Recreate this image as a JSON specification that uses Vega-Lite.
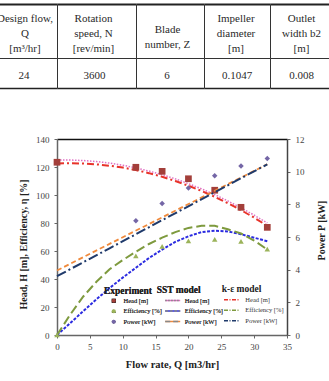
{
  "$schema": "https://vega.github.io/schema/vega-lite/v6.json",
  "padding": {"left": -11, "top": 4, "right": 0, "bottom": 0},
  "spacing": 47,
  "config": {"view": {"stroke": null}},
  "datasets": {
    "exp": [
      {"Q": 0, "value": 123.4, "series": "Head [m]"},
      {"Q": 12, "value": 119.8, "series": "Head [m]"},
      {"Q": 16, "value": 116.9, "series": "Head [m]"},
      {"Q": 20, "value": 111.6, "series": "Head [m]"},
      {"Q": 24, "value": 103.4, "series": "Head [m]"},
      {"Q": 28, "value": 91.2, "series": "Head [m]"},
      {"Q": 32, "value": 76.9, "series": "Head [m]"},
      {"Q": 0, "value": 0, "series": "Efficiency [%]"},
      {"Q": 12, "value": 56.6, "series": "Efficiency [%]"},
      {"Q": 16, "value": 63.3, "series": "Efficiency [%]"},
      {"Q": 20, "value": 67.2, "series": "Efficiency [%]"},
      {"Q": 24, "value": 68.3, "series": "Efficiency [%]"},
      {"Q": 28, "value": 66.9, "series": "Efficiency [%]"},
      {"Q": 32, "value": 61.3, "series": "Efficiency [%]"},
      {"Q": 12, "value": 7.0, "series": "Power [kW]"},
      {"Q": 16, "value": 8.05, "series": "Power [kW]"},
      {"Q": 20, "value": 9.0, "series": "Power [kW]"},
      {"Q": 24, "value": 9.75, "series": "Power [kW]"},
      {"Q": 28, "value": 10.35, "series": "Power [kW]"},
      {"Q": 32, "value": 10.8, "series": "Power [kW]"}
    ],
    "sst": [
      {"Q": 0, "value": 125.0, "series": "Head [m]"},
      {"Q": 2, "value": 125.0, "series": "Head [m]"},
      {"Q": 4, "value": 124.6, "series": "Head [m]"},
      {"Q": 6, "value": 123.9, "series": "Head [m]"},
      {"Q": 8, "value": 122.8, "series": "Head [m]"},
      {"Q": 10, "value": 121.3, "series": "Head [m]"},
      {"Q": 12, "value": 119.4, "series": "Head [m]"},
      {"Q": 14, "value": 117.1, "series": "Head [m]"},
      {"Q": 16, "value": 114.5, "series": "Head [m]"},
      {"Q": 18, "value": 111.5, "series": "Head [m]"},
      {"Q": 20, "value": 108.1, "series": "Head [m]"},
      {"Q": 22, "value": 104.4, "series": "Head [m]"},
      {"Q": 24, "value": 100.3, "series": "Head [m]"},
      {"Q": 26, "value": 95.7, "series": "Head [m]"},
      {"Q": 28, "value": 90.9, "series": "Head [m]"},
      {"Q": 30, "value": 85.6, "series": "Head [m]"},
      {"Q": 32, "value": 80.0, "series": "Head [m]"},
      {"Q": 0, "value": 0, "series": "Efficiency [%]"},
      {"Q": 2, "value": 8.5, "series": "Efficiency [%]"},
      {"Q": 4, "value": 17, "series": "Efficiency [%]"},
      {"Q": 6, "value": 25.5, "series": "Efficiency [%]"},
      {"Q": 8, "value": 33.5, "series": "Efficiency [%]"},
      {"Q": 10, "value": 41, "series": "Efficiency [%]"},
      {"Q": 12, "value": 48, "series": "Efficiency [%]"},
      {"Q": 14, "value": 55, "series": "Efficiency [%]"},
      {"Q": 16, "value": 61, "series": "Efficiency [%]"},
      {"Q": 18, "value": 66.5, "series": "Efficiency [%]"},
      {"Q": 20, "value": 70.5, "series": "Efficiency [%]"},
      {"Q": 22, "value": 73.5, "series": "Efficiency [%]"},
      {"Q": 24, "value": 74.5, "series": "Efficiency [%]"},
      {"Q": 26, "value": 74, "series": "Efficiency [%]"},
      {"Q": 28, "value": 72, "series": "Efficiency [%]"},
      {"Q": 30, "value": 69.5, "series": "Efficiency [%]"},
      {"Q": 32, "value": 67, "series": "Efficiency [%]"},
      {"Q": 0, "value": 3.95, "series": "Power [kW]"},
      {"Q": 8, "value": 5.58, "series": "Power [kW]"},
      {"Q": 16, "value": 7.2, "series": "Power [kW]"},
      {"Q": 24, "value": 8.83, "series": "Power [kW]"},
      {"Q": 32, "value": 10.45, "series": "Power [kW]"}
    ],
    "ke": [
      {"Q": 0, "value": 122.5, "series": "Head [m]"},
      {"Q": 2, "value": 122.7, "series": "Head [m]"},
      {"Q": 4, "value": 122.5, "series": "Head [m]"},
      {"Q": 6, "value": 121.9, "series": "Head [m]"},
      {"Q": 8, "value": 120.9, "series": "Head [m]"},
      {"Q": 10, "value": 119.6, "series": "Head [m]"},
      {"Q": 12, "value": 117.8, "series": "Head [m]"},
      {"Q": 14, "value": 115.6, "series": "Head [m]"},
      {"Q": 16, "value": 113.0, "series": "Head [m]"},
      {"Q": 18, "value": 110.0, "series": "Head [m]"},
      {"Q": 20, "value": 106.6, "series": "Head [m]"},
      {"Q": 22, "value": 102.9, "series": "Head [m]"},
      {"Q": 24, "value": 98.7, "series": "Head [m]"},
      {"Q": 26, "value": 94.1, "series": "Head [m]"},
      {"Q": 28, "value": 89.2, "series": "Head [m]"},
      {"Q": 30, "value": 83.8, "series": "Head [m]"},
      {"Q": 32, "value": 78.0, "series": "Head [m]"},
      {"Q": 0, "value": 0, "series": "Efficiency [%]"},
      {"Q": 2, "value": 14.5, "series": "Efficiency [%]"},
      {"Q": 4, "value": 27.5, "series": "Efficiency [%]"},
      {"Q": 6, "value": 38, "series": "Efficiency [%]"},
      {"Q": 8, "value": 47, "series": "Efficiency [%]"},
      {"Q": 10, "value": 53.5, "series": "Efficiency [%]"},
      {"Q": 12, "value": 59.5, "series": "Efficiency [%]"},
      {"Q": 14, "value": 65, "series": "Efficiency [%]"},
      {"Q": 16, "value": 69.5, "series": "Efficiency [%]"},
      {"Q": 18, "value": 73.5, "series": "Efficiency [%]"},
      {"Q": 20, "value": 76.5, "series": "Efficiency [%]"},
      {"Q": 22, "value": 78, "series": "Efficiency [%]"},
      {"Q": 24, "value": 78, "series": "Efficiency [%]"},
      {"Q": 26, "value": 75.5, "series": "Efficiency [%]"},
      {"Q": 28, "value": 72.5, "series": "Efficiency [%]"},
      {"Q": 30, "value": 67.5, "series": "Efficiency [%]"},
      {"Q": 32, "value": 61, "series": "Efficiency [%]"},
      {"Q": 0, "value": 3.6, "series": "Power [kW]"},
      {"Q": 8, "value": 5.31, "series": "Power [kW]"},
      {"Q": 16, "value": 7.03, "series": "Power [kW]"},
      {"Q": 24, "value": 8.74, "series": "Power [kW]"},
      {"Q": 32, "value": 10.45, "series": "Power [kW]"}
    ]
  },
  "vconcat": [
    {
      "spacing": 0,
      "vconcat": [
        {
          "spacing": 0,
          "bounds": "flush",
          "hconcat": [
            {"width": 68, "height": 54, "data": {"values": [{"label": "Design flow,\nQ\n[m³/hr]", "col": "c1", "row": "header"}]},
             "mark": {"type": "text", "font": "Liberation Serif", "fontSize": 11, "lineHeight": 15, "lineBreak": "\n", "color": "#2a2a2a", "baseline": "middle", "dx": 2, "dy": -12, "clip": true},
             "encoding": {"text": {"field": "label"},
               "x": {"field": "col", "type": "nominal", "scale": {"paddingInner": 0, "paddingOuter": 0}, "axis": {"orient": "top", "labels": false, "ticks": false, "title": null, "grid": false, "minExtent": 0, "domainColor": "#222", "domainWidth": 2}},
               "y": {"field": "row", "type": "nominal", "scale": {"paddingInner": 0, "paddingOuter": 0}, "axis": null}}},
            {"width": 79, "height": 54, "data": {"values": [{"label": "Rotation\nspeed, N\n[rev/min]", "col": "c2", "row": "header"}]},
             "mark": {"type": "text", "font": "Liberation Serif", "fontSize": 11, "lineHeight": 15, "lineBreak": "\n", "color": "#2a2a2a", "baseline": "middle", "dx": -3, "dy": -12, "clip": true},
             "encoding": {"text": {"field": "label"},
               "x": {"field": "col", "type": "nominal", "scale": {"paddingInner": 0, "paddingOuter": 0}, "axis": {"orient": "top", "labels": false, "ticks": false, "title": null, "grid": false, "minExtent": 0, "domainColor": "#222", "domainWidth": 2}},
               "y": {"field": "row", "type": "nominal", "scale": {"paddingInner": 0, "paddingOuter": 0}, "axis": {"orient": "left", "labels": false, "ticks": false, "title": null, "grid": false, "minExtent": 0, "domainColor": "#333", "domainWidth": 1}}}},
            {"width": 68, "height": 54, "data": {"values": [{"label": "Blade\nnumber, Z", "col": "c3", "row": "header"}]},
             "mark": {"type": "text", "font": "Liberation Serif", "fontSize": 11, "lineHeight": 15, "lineBreak": "\n", "color": "#2a2a2a", "baseline": "middle", "dx": -2.5, "dy": -1, "clip": true},
             "encoding": {"text": {"field": "label"},
               "x": {"field": "col", "type": "nominal", "scale": {"paddingInner": 0, "paddingOuter": 0}, "axis": {"orient": "top", "labels": false, "ticks": false, "title": null, "grid": false, "minExtent": 0, "domainColor": "#222", "domainWidth": 2}},
               "y": {"field": "row", "type": "nominal", "scale": {"paddingInner": 0, "paddingOuter": 0}, "axis": {"orient": "left", "labels": false, "ticks": false, "title": null, "grid": false, "minExtent": 0, "domainColor": "#333", "domainWidth": 1}}}},
            {"width": 66, "height": 54, "data": {"values": [{"label": "Impeller\ndiameter\n[m]", "col": "c4", "row": "header"}]},
             "mark": {"type": "text", "font": "Liberation Serif", "fontSize": 11, "lineHeight": 15, "lineBreak": "\n", "color": "#2a2a2a", "baseline": "middle", "dx": -1, "dy": -12, "clip": true},
             "encoding": {"text": {"field": "label"},
               "x": {"field": "col", "type": "nominal", "scale": {"paddingInner": 0, "paddingOuter": 0}, "axis": {"orient": "top", "labels": false, "ticks": false, "title": null, "grid": false, "minExtent": 0, "domainColor": "#222", "domainWidth": 2}},
               "y": {"field": "row", "type": "nominal", "scale": {"paddingInner": 0, "paddingOuter": 0}, "axis": {"orient": "left", "labels": false, "ticks": false, "title": null, "grid": false, "minExtent": 0, "domainColor": "#333", "domainWidth": 1}}}},
            {"width": 59, "height": 54, "data": {"values": [{"label": "Outlet\nwidth b2\n[m]", "col": "c5", "row": "header"}]},
             "mark": {"type": "text", "font": "Liberation Serif", "fontSize": 11, "lineHeight": 15, "lineBreak": "\n", "color": "#2a2a2a", "baseline": "middle", "dx": 2, "dy": -12, "clip": true},
             "encoding": {"text": {"field": "label"},
               "x": {"field": "col", "type": "nominal", "scale": {"paddingInner": 0, "paddingOuter": 0}, "axis": {"orient": "top", "labels": false, "ticks": false, "title": null, "grid": false, "minExtent": 0, "domainColor": "#222", "domainWidth": 2}},
               "y": {"field": "row", "type": "nominal", "scale": {"paddingInner": 0, "paddingOuter": 0}, "axis": {"orient": "left", "labels": false, "ticks": false, "title": null, "grid": false, "minExtent": 0, "domainColor": "#333", "domainWidth": 1}}}}
          ]
        },
        {
          "spacing": 0,
          "bounds": "flush",
          "hconcat": [
            {"width": 68, "height": 30, "data": {"values": [{"label": "24", "col": "c1", "row": "value"}]},
             "resolve": {"scale": {"x": "independent"}},
             "encoding": {"text": {"field": "label"},
               "y": {"field": "row", "type": "nominal", "scale": {"paddingInner": 0, "paddingOuter": 0}, "axis": null}},
             "layer": [
               {"mark": {"type": "text", "font": "Liberation Serif", "fontSize": 11, "color": "#2a2a2a", "baseline": "middle", "dx": 1, "dy": 3, "clip": true},
                "encoding": {"x": {"field": "col", "type": "nominal", "scale": {"paddingInner": 0, "paddingOuter": 0}, "axis": {"orient": "top", "labels": false, "ticks": false, "title": null, "grid": false, "minExtent": 0, "domainColor": "#333", "domainWidth": 1}}}},
               {"mark": {"type": "text", "font": "Liberation Serif", "fontSize": 11, "opacity": 0, "baseline": "middle", "dy": 3, "clip": true},
                "encoding": {"x": {"field": "col", "type": "nominal", "scale": {"paddingInner": 0, "paddingOuter": 0}, "axis": {"orient": "bottom", "labels": false, "ticks": false, "title": null, "grid": false, "minExtent": 0, "domainColor": "#222", "domainWidth": 1.5}}}}
             ]},
            {"width": 79, "height": 30, "data": {"values": [{"label": "3600", "col": "c2", "row": "value"}]},
             "resolve": {"scale": {"x": "independent"}},
             "encoding": {"text": {"field": "label"},
               "y": {"field": "row", "type": "nominal", "scale": {"paddingInner": 0, "paddingOuter": 0}, "axis": {"orient": "left", "labels": false, "ticks": false, "title": null, "grid": false, "minExtent": 0, "domainColor": "#333", "domainWidth": 1}}},
             "layer": [
               {"mark": {"type": "text", "font": "Liberation Serif", "fontSize": 11, "color": "#2a2a2a", "baseline": "middle", "dx": -2, "dy": 3, "clip": true},
                "encoding": {"x": {"field": "col", "type": "nominal", "scale": {"paddingInner": 0, "paddingOuter": 0}, "axis": {"orient": "top", "labels": false, "ticks": false, "title": null, "grid": false, "minExtent": 0, "domainColor": "#333", "domainWidth": 1}}}},
               {"mark": {"type": "text", "font": "Liberation Serif", "fontSize": 11, "opacity": 0, "baseline": "middle", "dy": 3, "clip": true},
                "encoding": {"x": {"field": "col", "type": "nominal", "scale": {"paddingInner": 0, "paddingOuter": 0}, "axis": {"orient": "bottom", "labels": false, "ticks": false, "title": null, "grid": false, "minExtent": 0, "domainColor": "#222", "domainWidth": 1.5}}}}
             ]},
            {"width": 68, "height": 30, "data": {"values": [{"label": "6", "col": "c3", "row": "value"}]},
             "resolve": {"scale": {"x": "independent"}},
             "encoding": {"text": {"field": "label"},
               "y": {"field": "row", "type": "nominal", "scale": {"paddingInner": 0, "paddingOuter": 0}, "axis": {"orient": "left", "labels": false, "ticks": false, "title": null, "grid": false, "minExtent": 0, "domainColor": "#333", "domainWidth": 1}}},
             "layer": [
               {"mark": {"type": "text", "font": "Liberation Serif", "fontSize": 11, "color": "#2a2a2a", "baseline": "middle", "dx": -3, "dy": 3, "clip": true},
                "encoding": {"x": {"field": "col", "type": "nominal", "scale": {"paddingInner": 0, "paddingOuter": 0}, "axis": {"orient": "top", "labels": false, "ticks": false, "title": null, "grid": false, "minExtent": 0, "domainColor": "#333", "domainWidth": 1}}}},
               {"mark": {"type": "text", "font": "Liberation Serif", "fontSize": 11, "opacity": 0, "baseline": "middle", "dy": 3, "clip": true},
                "encoding": {"x": {"field": "col", "type": "nominal", "scale": {"paddingInner": 0, "paddingOuter": 0}, "axis": {"orient": "bottom", "labels": false, "ticks": false, "title": null, "grid": false, "minExtent": 0, "domainColor": "#222", "domainWidth": 1.5}}}}
             ]},
            {"width": 66, "height": 30, "data": {"values": [{"label": "0.1047", "col": "c4", "row": "value"}]},
             "resolve": {"scale": {"x": "independent"}},
             "encoding": {"text": {"field": "label"},
               "y": {"field": "row", "type": "nominal", "scale": {"paddingInner": 0, "paddingOuter": 0}, "axis": {"orient": "left", "labels": false, "ticks": false, "title": null, "grid": false, "minExtent": 0, "domainColor": "#333", "domainWidth": 1}}},
             "layer": [
               {"mark": {"type": "text", "font": "Liberation Serif", "fontSize": 11, "color": "#2a2a2a", "baseline": "middle", "dy": 3, "clip": true},
                "encoding": {"x": {"field": "col", "type": "nominal", "scale": {"paddingInner": 0, "paddingOuter": 0}, "axis": {"orient": "top", "labels": false, "ticks": false, "title": null, "grid": false, "minExtent": 0, "domainColor": "#333", "domainWidth": 1}}}},
               {"mark": {"type": "text", "font": "Liberation Serif", "fontSize": 11, "opacity": 0, "baseline": "middle", "dy": 3, "clip": true},
                "encoding": {"x": {"field": "col", "type": "nominal", "scale": {"paddingInner": 0, "paddingOuter": 0}, "axis": {"orient": "bottom", "labels": false, "ticks": false, "title": null, "grid": false, "minExtent": 0, "domainColor": "#222", "domainWidth": 1.5}}}}
             ]},
            {"width": 59, "height": 30, "data": {"values": [{"label": "0.008", "col": "c5", "row": "value"}]},
             "resolve": {"scale": {"x": "independent"}},
             "encoding": {"text": {"field": "label"},
               "y": {"field": "row", "type": "nominal", "scale": {"paddingInner": 0, "paddingOuter": 0}, "axis": {"orient": "left", "labels": false, "ticks": false, "title": null, "grid": false, "minExtent": 0, "domainColor": "#333", "domainWidth": 1}}},
             "layer": [
               {"mark": {"type": "text", "font": "Liberation Serif", "fontSize": 11, "color": "#2a2a2a", "baseline": "middle", "dx": 2, "dy": 3, "clip": true},
                "encoding": {"x": {"field": "col", "type": "nominal", "scale": {"paddingInner": 0, "paddingOuter": 0}, "axis": {"orient": "top", "labels": false, "ticks": false, "title": null, "grid": false, "minExtent": 0, "domainColor": "#333", "domainWidth": 1}}}},
               {"mark": {"type": "text", "font": "Liberation Serif", "fontSize": 11, "opacity": 0, "baseline": "middle", "dy": 3, "clip": true},
                "encoding": {"x": {"field": "col", "type": "nominal", "scale": {"paddingInner": 0, "paddingOuter": 0}, "axis": {"orient": "bottom", "labels": false, "ticks": false, "title": null, "grid": false, "minExtent": 0, "domainColor": "#222", "domainWidth": 1.5}}}}
             ]}
          ]
        }
      ]
    },
    {
      "spacing": 0,
      "hconcat": [
        {"width": 29, "height": 5, "data": {"values": []}, "mark": "text", "encoding": {}},
        {
          "width": 230,
          "height": 196,
          "resolve": {"scale": {"y": "independent"}},
          "layer": [
            {
              "encoding": {
                "x": {"field": "Q", "type": "quantitative", "scale": {"domain": [0, 35], "nice": false},
                      "axis": {"orient": "bottom", "values": [0, 5, 10, 15, 20, 25, 30, 35], "title": "Flow rate, Q [m3/hr]", "grid": false, "labelFlush": false,
                               "domainColor": "#666", "domainWidth": 1.5, "tickColor": "#666", "tickSize": 3, "labelPadding": 4,
                               "labelFont": "Liberation Serif", "labelFontSize": 9, "labelColor": "#444",
                               "titleFont": "Liberation Serif", "titleFontSize": 10.5, "titleFontWeight": "bold", "titleColor": "#222", "titlePadding": 8}},
                "y": {"field": "value", "type": "quantitative", "scale": {"domain": [0, 140], "nice": false},
                      "axis": {"orient": "left", "values": [0, 20, 40, 60, 80, 100, 120, 140], "title": "Head, H [m], Efficiency, η [%]", "grid": false, "labelFlush": false,
                               "domainColor": "#666", "domainWidth": 1.5, "tickColor": "#666", "tickSize": 3, "labelPadding": 5,
                               "labelFont": "Liberation Serif", "labelFontSize": 9, "labelColor": "#444",
                               "titleFont": "Liberation Serif", "titleFontSize": 10, "titleFontWeight": "bold", "titleColor": "#222", "titlePadding": 7, "titleY": 105}}
              },
              "layer": [
                {"data": {"name": "sst"}, "transform": [{"filter": {"field": "series", "equal": "Head [m]"}}],
                 "mark": {"type": "line", "strokeWidth": 1.5},
                 "encoding": {
                   "stroke": {"field": "series", "type": "nominal", "sort": ["Head [m]", "Efficiency [%]", "Power [kW]"],
                     "scale": {"range": ["#E070C4", "#2B2BE0", "#F08A3C"]},
                     "legend": {"title": "SST model", "orient": "none", "legendX": 167.7, "legendY": 280.5, "direction": "vertical", "padding": 0,
                       "symbolType": "M-2.5,0H2.5", "symbolSize": 36, "symbolStrokeWidth": 1.5, "symbolOffset": 12, "labelOffset": 8, "rowPadding": 2.5, "titlePadding": 2.5,
                       "labelFont": "Liberation Serif", "labelFontSize": 6.5, "labelColor": "#333",
                       "titleFont": "Liberation Serif", "titleFontSize": 9.5, "titleFontWeight": "bold", "titleColor": "#222"}},
                   "strokeDash": {"field": "series", "type": "nominal", "sort": ["Head [m]", "Efficiency [%]", "Power [kW]"],
                     "scale": {"range": [[1.5, 1.5], [3, 1.5], [5, 3]]},
                     "legend": {"title": "SST model", "orient": "none", "legendX": 167.7, "legendY": 280.5, "direction": "vertical", "padding": 0,
                       "symbolType": "M-2.5,0H2.5", "symbolSize": 36, "symbolStrokeWidth": 1.5, "symbolOffset": 12, "labelOffset": 8, "rowPadding": 2.5, "titlePadding": 2.5,
                       "labelFont": "Liberation Serif", "labelFontSize": 6.5, "labelColor": "#333",
                       "titleFont": "Liberation Serif", "titleFontSize": 9.5, "titleFontWeight": "bold", "titleColor": "#222"}}}},
                {"data": {"name": "sst"}, "transform": [{"filter": {"field": "series", "equal": "Efficiency [%]"}}],
                 "mark": {"type": "line", "strokeWidth": 2},
                 "encoding": {
                   "stroke": {"field": "series", "type": "nominal", "sort": ["Head [m]", "Efficiency [%]", "Power [kW]"]},
                   "strokeDash": {"field": "series", "type": "nominal", "sort": ["Head [m]", "Efficiency [%]", "Power [kW]"]}}},
                {"data": {"name": "ke"}, "transform": [{"filter": {"field": "series", "equal": "Head [m]"}}],
                 "mark": {"type": "line", "strokeDash": [7, 3, 2, 3], "strokeWidth": 2},
                 "encoding": {"color": {"field": "series", "type": "nominal", "sort": ["Head [m]", "Efficiency [%]", "Power [kW]"],
                   "scale": {"range": ["#E8332A", "#7E9A3E", "#1F3A6B"]},
                   "legend": {"title": "k-ε model", "orient": "none", "legendX": 232.7, "legendY": 279.8, "direction": "vertical", "padding": 0,
                     "symbolType": "M-2.5,0H2.5", "symbolSize": 36, "symbolStrokeWidth": 1.5, "symbolDash": [4, 1.5, 1, 1.5], "symbolOffset": 5.8, "labelOffset": 9.8, "rowPadding": 2.5, "titlePadding": 2.5,
                     "labelFont": "Liberation Serif", "labelFontSize": 6.5, "labelColor": "#333",
                     "titleFont": "Liberation Serif", "titleFontSize": 9.5, "titleFontWeight": "bold", "titleColor": "#222"}}}},
                {"data": {"name": "ke"}, "transform": [{"filter": {"field": "series", "equal": "Efficiency [%]"}}],
                 "mark": {"type": "line", "strokeDash": [9, 4], "strokeWidth": 2},
                 "encoding": {"color": {"field": "series", "type": "nominal", "sort": ["Head [m]", "Efficiency [%]", "Power [kW]"]}}},
                {"data": {"name": "exp"}, "transform": [{"filter": {"field": "series", "equal": "Head [m]"}}],
                 "mark": {"type": "point", "filled": true, "size": 45, "opacity": 1},
                 "encoding": {
                   "fill": {"field": "series", "type": "nominal", "sort": ["Head [m]", "Efficiency [%]", "Power [kW]"],
                     "scale": {"range": ["#A33F3A", "#9BB35A", "#7466A6"]},
                     "legend": {"title": "Experiment", "orient": "none", "legendX": 115, "legendY": 281.5, "direction": "vertical", "padding": 0,
                       "symbolSize": 18, "symbolStrokeWidth": 0, "symbolOffset": 6.5, "labelOffset": 6.5, "rowPadding": 3.5, "titlePadding": 2.5,
                       "labelFont": "Liberation Serif", "labelFontSize": 6.5, "labelColor": "#333",
                       "titleFont": "Liberation Serif", "titleFontSize": 9.5, "titleFontWeight": "bold", "titleColor": "#222"}},
                   "shape": {"field": "series", "type": "nominal", "sort": ["Head [m]", "Efficiency [%]", "Power [kW]"],
                     "scale": {"range": ["square", "triangle-up", "diamond"]},
                     "legend": {"title": "Experiment", "orient": "none", "legendX": 115, "legendY": 281.5, "direction": "vertical", "padding": 0,
                       "symbolSize": 18, "symbolStrokeWidth": 0, "symbolOffset": 6.5, "labelOffset": 6.5, "rowPadding": 3.5, "titlePadding": 2.5,
                       "labelFont": "Liberation Serif", "labelFontSize": 6.5, "labelColor": "#333",
                       "titleFont": "Liberation Serif", "titleFontSize": 9.5, "titleFontWeight": "bold", "titleColor": "#222"}}}},
                {"data": {"name": "exp"}, "transform": [{"filter": {"field": "series", "equal": "Efficiency [%]"}}],
                 "mark": {"type": "point", "filled": true, "size": 30, "opacity": 1},
                 "encoding": {
                   "fill": {"field": "series", "type": "nominal", "sort": ["Head [m]", "Efficiency [%]", "Power [kW]"]},
                   "shape": {"field": "series", "type": "nominal", "sort": ["Head [m]", "Efficiency [%]", "Power [kW]"]}}}
              ]
            },
            {
              "encoding": {
                "x": {"field": "Q", "type": "quantitative", "scale": {"domain": [0, 35], "nice": false},
                      "axis": {"orient": "top", "labels": false, "ticks": false, "title": null, "grid": false,
                               "domainColor": "#111", "domainWidth": 1.5}},
                "y": {"field": "value", "type": "quantitative", "scale": {"domain": [0, 12], "nice": false},
                      "axis": {"orient": "right", "values": [0, 2, 4, 6, 8, 10, 12], "title": "Power P [kW]", "grid": false, "labelFlush": false,
                               "domainColor": "#444", "domainWidth": 1.5, "tickColor": "#666", "tickSize": 3, "labelPadding": 5,
                               "labelFont": "Liberation Serif", "labelFontSize": 9, "labelColor": "#444",
                               "titleFont": "Liberation Serif", "titleFontSize": 10, "titleFontWeight": "bold", "titleColor": "#222", "titlePadding": 12,
                               "titleAngle": 270, "titleBaseline": "top", "titleY": 91}}
              },
              "layer": [
                {"data": {"name": "sst"}, "transform": [{"filter": {"field": "series", "equal": "Power [kW]"}}],
                 "mark": {"type": "line", "strokeWidth": 1.8},
                 "encoding": {
                   "stroke": {"field": "series", "type": "nominal", "sort": ["Head [m]", "Efficiency [%]", "Power [kW]"]},
                   "strokeDash": {"field": "series", "type": "nominal", "sort": ["Head [m]", "Efficiency [%]", "Power [kW]"]}}},
                {"data": {"name": "ke"}, "transform": [{"filter": {"field": "series", "equal": "Power [kW]"}}],
                 "mark": {"type": "line", "strokeDash": [10, 3, 2, 3], "strokeWidth": 2},
                 "encoding": {"color": {"field": "series", "type": "nominal", "sort": ["Head [m]", "Efficiency [%]", "Power [kW]"]}}},
                {"data": {"name": "exp"}, "transform": [{"filter": {"field": "series", "equal": "Power [kW]"}}],
                 "mark": {"type": "point", "filled": true, "size": 30, "opacity": 1},
                 "encoding": {
                   "fill": {"field": "series", "type": "nominal", "sort": ["Head [m]", "Efficiency [%]", "Power [kW]"]},
                   "shape": {"field": "series", "type": "nominal", "sort": ["Head [m]", "Efficiency [%]", "Power [kW]"]}}}
              ]
            }
          ]
        }
      ]
    }
  ]
}
